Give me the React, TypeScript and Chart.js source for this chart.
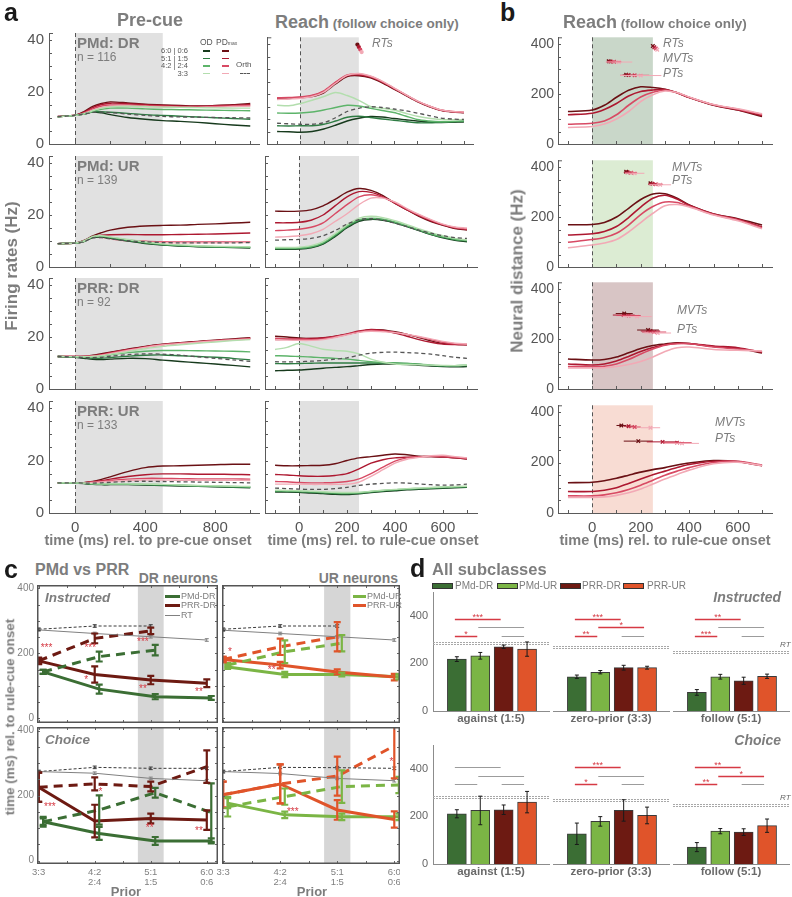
import React, { useEffect, useRef } from 'react';
import { Chart, registerables } from 'chart.js';

Chart.register(...registerables);

const FONT = '"Liberation Sans", Arial, Helvetica, sans-serif';
Chart.defaults.font.family = FONT;

const TXT = '#7d7d7d';
const AX = '#5a5a5a';

// ================= Panel a / b : time bases, ticks =================
const preTimes = [-100, 0, 50, 100, 150, 200, 300, 400, 500, 600, 700, 800, 900, 1000];
const reachTimes = [-100, -50, 0, 50, 100, 150, 200, 250, 300, 350, 400, 450, 500, 550, 600, 650, 700];
const distTimes = [-100, 0, 50, 100, 150, 200, 250, 300, 350, 400, 500, 600, 700];
const priorConds = ['6:0 | 0:6', '5:1 | 1:5', '4:2 | 2:4', '3:3'];
const preTicks = [0, 200, 400, 600, 800, 1000];
const preTickLabels = [0, 400, 800];
const reachTicks = [-100, 0, 100, 200, 300, 400, 500, 600, 700];
const reachTickLabels = [0, 200, 400, 600];
const rateTicks = [0, 5, 10, 15, 20, 25, 30, 35, 40];
const rateTickLabels = [0, 20, 40];
const distTicks = [0, 50, 100, 150, 200, 250, 300, 350, 400];
const distTickLabels = [0, 200, 400];
const areaNames = ['PMd: DR', 'PMd: UR', 'PRR: DR', 'PRR: UR'];
const areaCounts = [116, 139, 92, 133];

const OD_COLORS = ['#173a1d', '#2e7c43', '#5db46a', '#b3deae'];
const PD_COLORS = ['#6a1014', '#ad1830', '#d84a64', '#f2a9b5'];

// ---- PMd DR ----
const pmdDrPreOD = [
  [10.5, 11, 11.5, 12.3, 12, 11.3, 10.2, 9.5, 9, 8.7, 8.3, 7.8, 7.3, 6.9],
  [10.5, 11, 11.6, 12.4, 12.4, 12.2, 11.8, 11.3, 11, 10.7, 10.4, 10.1, 9.8, 9.5],
  [10.5, 11, 11.5, 12.5, 13.3, 13.8, 13.8, 13.5, 13.3, 13.2, 13.1, 13, 12.9, 12.8],
  [10.5, 11, 11.6, 12.8, 13.8, 14.3, 14.5, 14.4, 14.2, 14.1, 14, 13.9, 13.8, 13.8],
];
const pmdDrPrePD = [
  [10.6, 11.1, 12.5, 14.5, 15.6, 16.2, 15.8, 15.3, 15, 14.8, 14.6, 14.8, 15.1, 15.6],
  [10.6, 11.1, 12.2, 14, 15.2, 15.7, 15.5, 15.1, 14.8, 14.6, 14.5, 14.7, 14.9, 15.2],
  [10.5, 11, 12, 13.5, 14.6, 15, 15, 14.7, 14.5, 14.3, 14.3, 14.4, 14.6, 14.8],
  [10.5, 11, 11.8, 13, 14, 14.5, 14.6, 14.4, 14.2, 14.1, 14.1, 14.2, 14.4, 14.5],
];
const pmdDrPreOrth = [10.5, 11, 11.5, 12.2, 12.3, 12.1, 11.5, 11, 10.6, 10.4, 10.3, 10.2, 10.1, 10];
const pmdDrReachOD = [
  [5, 4.9, 4.7, 5, 6, 7.5, 9.2, 10.3, 11, 10.8, 10.2, 9.7, 9.2, 8.8, 8.6, 8.7, 8.8],
  [7.3, 7.2, 7.3, 7.3, 7.9, 9.2, 10.7, 11.1, 10.6, 10, 9.5, 9, 8.5, 8.5, 8.7, 8.9, 9.1],
  [12.4, 12.3, 12.4, 12.8, 13.6, 14.6, 15.5, 15.2, 14.3, 13.4, 12.6, 11.2, 9.8, 9.2, 8.9, 9, 9.2],
  [15.5, 15.3, 16.2, 17.5, 19, 20.6, 19.4, 17.5, 15, 14.3, 13.6, 12.3, 11.1, 10.3, 9.8, 9.7, 9.8],
];
const pmdDrReachPD = [
  [18, 18.2, 18.5, 19, 20.5, 24, 27, 27.3, 26.5, 24.5, 22, 19.5, 17, 15, 13.5, 12.8, 12.5],
  [18.3, 18.5, 18.7, 19.3, 21, 24.5, 27.3, 27.6, 26.8, 24.8, 22.2, 19.7, 17.2, 15.2, 13.6, 12.9, 12.6],
  [18.5, 18.6, 18.8, 19.5, 21.3, 24.8, 27.6, 28, 27, 25, 22.4, 19.8, 17.2, 15.2, 13.6, 13, 12.7],
  [17.8, 18, 18.3, 19, 20.8, 24.3, 27.5, 28.2, 27.2, 25.2, 22.5, 19.8, 17.3, 15.3, 13.7, 13, 12.8],
];
const pmdDrReachOrth = [8.3, 8.1, 7.9, 7.9, 8.5, 10.5, 13, 14.3, 14.9, 14.6, 14, 13.3, 12.4, 11.4, 10.4, 10, 9.8];
const reachRtTimes = [244, 250, 256, 262];
const reachRtLevels = [39.8, 38.8, 37.8, 36.8];
const reachRtErr = [3, 3, 3, 3];

// ---- PMd UR ----
const pmdUrPreOD = [
  [9, 9.2, 9.8, 11.3, 11.5, 11, 10, 9, 8.4, 8.1, 7.8, 7.6, 7.5, 7.3],
  [9, 9.2, 9.9, 11.5, 11.7, 11.2, 10.2, 9.2, 8.5, 8.2, 7.9, 7.7, 7.6, 7.5],
  [9, 9.2, 9.9, 11.6, 11.9, 11.4, 10.4, 9.4, 8.7, 8.3, 8, 7.8, 7.7, 7.6],
  [9, 9.2, 10, 11.8, 12, 11.6, 10.6, 9.6, 8.9, 8.5, 8.2, 8, 7.9, 7.8],
];
const pmdUrPrePD = [
  [9, 9.2, 10.2, 12, 13.2, 14.2, 15.3, 15.8, 16, 16.1, 16.4, 16.6, 16.9, 17.2],
  [9, 9.2, 10, 11.6, 12.2, 12.4, 12.5, 12.4, 12.4, 12.5, 12.6, 12.7, 12.9, 13.1],
  [9, 9.2, 9.9, 11.5, 11.5, 11, 10.3, 9.9, 9.7, 9.6, 9.6, 9.6, 9.6, 9.7],
  [9, 9.2, 9.9, 11.4, 11.3, 10.8, 10, 9.6, 9.4, 9.3, 9.3, 9.3, 9.4, 9.5],
];
const pmdUrPreOrth = [9, 9.2, 9.8, 11.2, 11.3, 10.8, 10.1, 9.7, 9.4, 9.3, 9.3, 9.3, 9.3, 9.4];
const pmdUrReachOD = [
  [6.8, 6.8, 6.9, 7.4, 8.8, 11.7, 15.1, 17.6, 18.3, 18, 17, 15.5, 14, 12.5, 11.2, 10.3, 9.7],
  [7, 7, 7.1, 7.6, 9, 12, 15.4, 17.9, 18.5, 18.2, 17.1, 15.6, 14.1, 12.6, 11.4, 10.5, 10],
  [7.2, 7.2, 7.3, 7.8, 9.3, 12.3, 15.7, 18.2, 18.8, 18.4, 17.3, 15.8, 14.3, 12.8, 11.6, 10.7, 10.2],
  [7.5, 7.5, 7.6, 8.2, 9.8, 12.8, 16.2, 18.8, 19.5, 19, 17.8, 16.3, 14.7, 13.2, 12, 11, 10.4],
];
const pmdUrReachPD = [
  [21.5, 21.4, 21.5, 22, 23.5, 26, 28.8, 30.2, 29.5, 27.5, 24.5, 22, 19.5, 17.5, 16, 14.8, 14.2],
  [17, 17, 17.2, 18, 20, 23.5, 27, 29, 28.7, 27, 24.5, 22, 19.8, 17.8, 16.2, 15, 14.4],
  [14, 14.2, 14.5, 15.3, 17, 20.5, 24, 27, 27.8, 26.8, 24.8, 22.3, 20, 18, 16.3, 15.2, 14.6],
  [11.5, 11.7, 12, 12.8, 14.5, 17.5, 20.5, 24, 26.5, 26.5, 25, 22.5, 20.2, 18.2, 16.5, 15.4, 15],
];
const pmdUrReachOrth = [10.3, 10.5, 10.6, 11, 12, 14, 16.5, 18.2, 18.6, 18, 16.8, 15.5, 14.2, 13, 12, 11.3, 11];

// ---- PRR DR ----
const prrDrPreOD = [
  [12.5, 12.2, 11.8, 11.4, 11.3, 11.5, 11.8, 11.7, 11.1, 10.6, 10.1, 9.6, 9.1, 8.5],
  [12.5, 12.3, 12.1, 11.8, 11.8, 12.1, 12.6, 13, 13.1, 12.8, 12.5, 12.2, 11.8, 11.2],
  [12.5, 12.4, 12.3, 12.3, 12.6, 13.2, 14, 14.5, 14.8, 14.8, 14.7, 14.6, 14.5, 14.3],
  [12.5, 12.4, 12.4, 12.5, 12.8, 13.3, 14.4, 15.5, 16.4, 17, 17.6, 18.1, 18.6, 19],
];
const prrDrPrePD = [
  [12.5, 12.5, 12.6, 13, 13.6, 14.2, 15.3, 16.4, 17.2, 17.8, 18.3, 18.8, 19.3, 19.7],
  [12.5, 12.5, 12.5, 12.8, 13.3, 14, 15.2, 16.3, 17.1, 17.7, 18.2, 18.7, 19.1, 19.5],
  [12.5, 12.5, 12.5, 12.7, 13.1, 13.8, 15, 16.1, 17, 17.6, 18.1, 18.6, 19, 19.4],
  [12.5, 12.5, 12.5, 12.6, 13, 13.6, 14.8, 16, 16.9, 17.5, 18, 18.5, 18.9, 19.2],
];
const prrDrPreOrth = [12.5, 12.3, 12.1, 12.1, 12.2, 12.6, 13.2, 13.5, 13.4, 13, 12.4, 11.8, 11.2, 10.6];
const prrDrReachOD = [
  [7, 7.2, 7.3, 7.6, 8, 8.3, 8.6, 9, 9.4, 9.6, 9.6, 9.4, 9.1, 8.8, 8.6, 8.5, 8.6],
  [9.8, 9.7, 9.8, 9.9, 10, 10, 10, 10, 10, 10, 10, 9.8, 9.5, 9.1, 8.8, 8.8, 9],
  [12.8, 12.7, 12.5, 12.3, 12, 11.8, 11.5, 11, 10.5, 10.2, 10, 9.8, 9.5, 9.2, 9, 9, 9.2],
  [15.2, 16, 17.5, 16.5, 15.3, 14.8, 14.5, 13.5, 11.5, 10.3, 9.6, 9.4, 9.3, 9.2, 9.1, 9, 9.2],
];
const prrDrReachPD = [
  [20.3, 20, 19.6, 19.4, 19.6, 20.2, 21, 22, 22.8, 22.7, 22, 21, 19.8, 18.5, 17.5, 17.2, 17],
  [19, 19.2, 19.3, 19.4, 19.7, 20.3, 21.2, 22.3, 22.9, 22.5, 21.5, 20.3, 19, 18, 17.3, 17.1, 17],
  [19.5, 19.3, 19.2, 19, 19.3, 20, 21, 22, 22.5, 22.3, 21.8, 21, 20, 19, 18, 17.4, 17.2],
  [19, 18.8, 18.7, 18.7, 19, 19.8, 20.8, 21.8, 22.2, 22, 21.7, 21, 20.2, 19.3, 18.3, 17.6, 17.3],
];
const prrDrReachOrth = [10.5, 10.4, 10.5, 10.7, 11, 11.5, 12, 13, 13.8, 14.1, 14.2, 14, 13.8, 13.4, 12.8, 12.2, 11.8];

// ---- PRR UR ----
const prrUrPreOD = [
  [11.5, 11.4, 11.2, 10.9, 10.8, 10.8, 10.8, 10.7, 10.5, 10.3, 10.2, 10, 9.8, 9.6],
  [11.5, 11.4, 11.3, 11, 10.9, 10.9, 10.9, 10.8, 10.6, 10.5, 10.3, 10.1, 9.9, 9.8],
  [11.5, 11.4, 11.3, 11.1, 11, 11, 11, 10.9, 10.8, 10.6, 10.4, 10.2, 10.1, 10],
  [11.5, 11.5, 11.4, 11.2, 11.1, 11.1, 11.1, 11, 10.9, 10.7, 10.5, 10.4, 10.2, 10.1],
];
const prrUrPrePD = [
  [11.5, 11.5, 11.6, 12, 12.8, 13.8, 15.8, 17.3, 17.9, 18, 18.2, 18.4, 18.6, 18.6],
  [11.5, 11.5, 11.6, 11.9, 12.3, 12.9, 13.9, 14.6, 14.9, 14.9, 14.8, 14.8, 14.7, 14.6],
  [11.5, 11.5, 11.5, 11.7, 12, 12.4, 12.9, 13.2, 13.2, 13.1, 13, 13, 13, 12.9],
  [11.5, 11.5, 11.5, 11.6, 11.8, 12, 12.4, 12.6, 12.6, 12.5, 12.5, 12.5, 12.5, 12.4],
];
const prrUrPreOrth = [11.5, 11.5, 11.4, 11.4, 11.5, 11.7, 12, 12.1, 12, 11.9, 11.8, 11.7, 11.6, 11.5];
const prrUrReachOD = [
  [8, 8, 7.9, 7.6, 7.4, 7.1, 7, 7.3, 7.8, 8.2, 8.5, 8.8, 9, 9.2, 9.4, 9.6, 9.8],
  [8.3, 8.2, 8.1, 7.9, 7.6, 7.4, 7.3, 7.5, 8, 8.4, 8.7, 9, 9.2, 9.4, 9.6, 9.8, 10],
  [8.5, 8.4, 8.3, 8.1, 7.9, 7.6, 7.5, 7.7, 8.2, 8.6, 8.9, 9.2, 9.4, 9.6, 9.8, 10, 10.1],
  [8.7, 8.6, 8.5, 8.3, 8.1, 7.9, 7.8, 7.9, 8.3, 8.7, 9, 9.3, 9.5, 9.7, 9.9, 10.1, 10.2],
];
const prrUrReachPD = [
  [18.2, 18, 18, 18.1, 18.2, 18.8, 20, 21, 21.5, 22, 22.5, 22.2, 21.7, 21.5, 21.3, 21, 20.6],
  [14.7, 14.5, 14.2, 14, 14, 14.3, 15, 16.8, 19, 20.3, 21, 21.3, 21.5, 21.5, 21.4, 21, 20.7],
  [12, 11.9, 11.6, 11.5, 11.5, 11.6, 12, 13, 15, 17.5, 19.8, 21, 21.5, 21.6, 21.5, 21.2, 20.9],
  [11, 11, 11, 10.9, 10.9, 10.9, 11, 11.8, 14, 16.5, 19, 20.5, 21.2, 21.8, 22, 21.5, 21],
];
const prrUrReachOrth = [9.5, 9.3, 9.1, 9, 9, 9.3, 9.8, 10.5, 11, 11.3, 11.5, 11.4, 11.1, 10.8, 10.6, 10.7, 11];

// ================= Panel b: neural distance =================
const distPmdDr = [
  [130, 136, 155, 187, 215, 229, 226, 219, 205, 186, 155, 136, 110],
  [117, 123, 138, 162, 192, 210, 216, 218, 205, 186, 156, 137, 114],
  [79, 83, 92, 117, 155, 188, 207, 215, 205, 187, 157, 139, 118],
  [66, 70, 80, 100, 130, 170, 197, 212, 206, 188, 158, 141, 121],
];
const distPmdUr = [
  [169, 170, 178, 200, 235, 270, 292, 293, 275, 248, 212, 193, 168],
  [128, 133, 142, 162, 198, 240, 275, 287, 272, 247, 212, 191, 160],
  [99, 110, 118, 135, 168, 210, 242, 260, 258, 243, 210, 188, 157],
  [77, 88, 96, 110, 140, 178, 215, 245, 250, 240, 208, 185, 153],
];
const distPrrDr = [
  [120, 116, 118, 128, 145, 162, 174, 180, 185, 182, 170, 163, 144],
  [100, 96, 100, 112, 130, 150, 166, 177, 183, 182, 172, 165, 147],
  [90, 89, 91, 100, 118, 140, 160, 175, 181, 181, 168, 160, 150],
  [84, 84, 85, 90, 98, 110, 128, 150, 165, 168, 158, 155, 152],
];
const distPrrUr = [
  [120, 122, 128, 138, 150, 162, 172, 180, 190, 198, 208, 204, 188],
  [85, 85, 90, 100, 117, 135, 152, 166, 180, 192, 205, 203, 187],
  [68, 68, 72, 80, 93, 110, 130, 150, 166, 180, 200, 205, 190],
  [62, 62, 64, 70, 80, 95, 115, 135, 153, 170, 195, 201, 188],
];
// behavioural markers (mean time, level, half-width) for 6:0, 5:1, 4:2, 3:3
const distPmdDrRT = { x: [250, 256, 262, 268], y: [392, 387, 382, 377], err: [3, 3, 3, 3] };
const distPmdDrMVT = { x: [68, 75, 90, 110], y: [331, 330, 329, 328], err: [8, 12, 30, 55] };
const distPmdDrPT = { x: [140, 150, 175, 200], y: [277, 276, 275, 274], err: [10, 25, 60, 85] };
const distPmdUrMVT = { x: [140, 145, 160, 175], y: [381, 379, 377, 375], err: [8, 15, 25, 40] };
const distPmdUrPT = { x: [240, 248, 262, 280], y: [335, 333, 331, 329], err: [8, 15, 30, 45] };
const distPrrDrMVT = { x: [132, 130, 150, 185], y: [302, 296, 294, 290], err: [35, 45, 50, 60] };
const distPrrDrPT = { x: [230, 240, 255, 270], y: [236, 232, 228, 224], err: [45, 40, 50, 55] };
const distPrrUrMVT = { x: [120, 150, 175, 240], y: [347, 344, 341, 338], err: [20, 20, 25, 40] };
const distPrrUrPT = { x: [190, 290, 350, 370], y: [285, 282, 279, 276], err: [60, 65, 60, 70] };
const distShades = ['#c9d7c9', '#dcecd3', '#d8c5c5', '#f8dcd3'];

// ================= Panel c: PMd vs PRR =================
const priorTickLabels = [['3:3'], ['4:2', '2:4'], ['5:1', '1:5'], ['6:0', '0:6']];
const priorTicks = [0, 0.5, 1, 1.5, 2, 2.5, 3];
const latTicks = [0, 50, 100, 150, 200, 250, 300, 350, 400];
const latTickLabels = [0, 200, 400];

const instrDrRT = [272, 261, 251, 241];
const instrDrRTDash = [274, 284, 284];
const instrDrPmdDash = [143, 190, 210];
const instrDrPmdDashErr = [6, 15, 16];
const instrDrPrrDash = [177, 246, 269];
const instrDrPrrDashErr = [8, 15, 10];
const instrDrPrr = [177, 135, 118, 108];
const instrDrPrrErr = [10, 25, 13, 12];
const instrDrPmd = [143, 90, 67, 63];
const instrDrPmdErr = [6, 14, 8, 6];
const instrDrStars = [[0.14, 217, '***'], [0.92, 216, '***'], [1.86, 233, '***'], [0.85, 118, '*'], [1.86, 90, '**'], [2.86, 82, '**']];

const instrUrRT = [271, 261, 251, 241];
const instrUrRTDash = [274, 284, 284];
const instrUrPmdDash = [164, 205, 231];
const instrUrPmdDashErr = [6, 35, 25];
const instrUrPrrDash = [181, 220, 251];
const instrUrPrrDashErr = [8, 25, 45];
const instrUrPrr = [181, 164, 143, 127];
const instrUrPrrErr = [8, 10, 8, 10];
const instrUrPmd = [158, 135, 135, 128];
const instrUrPmdErr = [6, 8, 6, 8];
const instrUrStars = [[0.12, 202, '*'], [0.85, 149, '**']];

const choiceDrRT = [274, 269, 253, 246];
const choiceDrRTDash = [274, 287, 284, 284];
const choiceDrPmdDash = [120, 156, 209, 148];
const choiceDrPmdDashErr = [10, 45, 15, 90];
const choiceDrPrrDash = [226, 236, 228, 289];
const choiceDrPrrDashErr = [45, 20, 15, 50];
const choiceDrPrr = [226, 122, 130, 125];
const choiceDrPrrErr = [45, 50, 15, 30];
const choiceDrPmd = [120, 84, 61, 61];
const choiceDrPmdErr = [15, 20, 12, 8];
const choiceDrStars = [[0.2, 164, '***'], [1.1, 209, '*'], [1.98, 100, '**'], [2.86, 92, '**']];

const choiceUrRT = [274, 268, 253, 246];
const choiceUrRTDash = [274, 287, 286, 284];
const choiceUrPmdDash = [166, 197, 228, 233];
const choiceUrPmdDashErr = [30, 25, 50, 25];
const choiceUrPrrDash = [203, 236, 260, 353];
const choiceUrPrrDashErr = [40, 60, 60, 100];
const choiceUrPrr = [203, 236, 156, 127];
const choiceUrPrrErr = [40, 60, 30, 25];
const choiceUrPmd = [177, 141, 135, 135];
const choiceUrPmdErr = [15, 10, 10, 10];
const choiceUrStars = [[1.22, 148, '***'], [2.95, 302, '*']];

const C_PMD_DR = '#3b6e34';
const C_PMD_UR = '#7bb545';
const C_PRR_DR = '#6d1a12';
const C_PRR_UR = '#e0542a';

// ================= Panel d: all subclasses =================
const subclasses = ['PMd-DR', 'PMd-UR', 'PRR-DR', 'PRR-UR'];
const D_COLORS = ['#3b6e34', '#7bb545', '#6d1a12', '#e0542a'];
const priorGroups = ['against (1:5)', 'zero-prior (3:3)', 'follow (5:1)'];
const instrBars = [[218, 232, 270, 260], [144, 163, 182, 182], [78, 144, 127, 146]];
const instrBarErr = [[10, 14, 7, 30], [7, 7, 10, 6], [12, 10, 15, 9]];
const instrRT = [284, 268, 249];
const instrSig = [['***', '', '*', ''], ['***', '*', '**', ''], ['**', '', '***', '']];
const instrSigLevels = [387, 352, 316];
const choiceBars = [[211, 225, 228, 260], [127, 179, 225, 204], [71, 138, 134, 161]];
const choiceBarErr = [[17, 60, 20, 45], [45, 20, 45, 35], [19, 11, 14, 28]];
const choiceRT = [283, 269, 250];
const choiceSig = [['', '', '', ''], ['***', '', '*', ''], ['**', '*', '**', '']];
const choiceSigLevels = [406, 371, 336];

// ================= drawing helpers =================
function decor(o: any) {
  return {
    id: 'decor',
    beforeDatasetsDraw(chart: any) {
      const { ctx, chartArea: ca, scales } = chart;
      const xs = scales.x, ys = scales.y;
      ctx.save();
      for (const b of o.bands || []) {
        const x1 = xs.getPixelForValue(b.from), x2 = xs.getPixelForValue(b.to);
        ctx.fillStyle = b.color;
        ctx.fillRect(x1, ca.top, x2 - x1, ca.bottom - ca.top);
      }
      if (o.vline !== undefined) {
        const p = Math.round(xs.getPixelForValue(o.vline)) + 0.5;
        ctx.strokeStyle = '#555'; ctx.lineWidth = 1; ctx.setLineDash([4, 3]);
        ctx.beginPath(); ctx.moveTo(p, ca.top); ctx.lineTo(p, ca.bottom); ctx.stroke();
        ctx.setLineDash([]);
      }
      if (o.rt !== undefined) {
        const p = Math.round(ys.getPixelForValue(o.rt)) + 0.5;
        ctx.strokeStyle = '#a8a8a8'; ctx.lineWidth = 1; ctx.setLineDash([2, 1]);
        ctx.beginPath();
        ctx.moveTo(ca.left, p - 1); ctx.lineTo(ca.right, p - 1);
        ctx.moveTo(ca.left, p + 1); ctx.lineTo(ca.right, p + 1);
        ctx.stroke(); ctx.setLineDash([]);
      }
      ctx.restore();
    },
    afterDatasetsDraw(chart: any) {
      const { ctx, chartArea: ca, scales } = chart;
      const xs = scales.x, ys = scales.y;
      ctx.save();
      ctx.beginPath(); ctx.rect(ca.left, ca.top, ca.right - ca.left, ca.bottom - ca.top); ctx.clip();
      chart.data.datasets.forEach((ds: any, i: number) => {
        const meta = chart.getDatasetMeta(i);
        if (ds.err) {
          ctx.setLineDash([]);
          ctx.strokeStyle = ds.errColor || ds.borderColor; ctx.lineWidth = ds.errWidth || 1;
          meta.data.forEach((pt: any, j: number) => {
            const e = ds.err[j]; if (!e) return;
            const v = ds.data[j].y;
            const y1 = ys.getPixelForValue(v - e), y2 = ys.getPixelForValue(v + e);
            const x = pt.x, c = ds.cap || 3;
            ctx.beginPath();
            ctx.moveTo(x, y1); ctx.lineTo(x, y2);
            ctx.moveTo(x - c, y1); ctx.lineTo(x + c, y1);
            ctx.moveTo(x - c, y2); ctx.lineTo(x + c, y2);
            ctx.stroke();
          });
        }
        if (ds.xerr) {
          ctx.setLineDash([]); ctx.lineWidth = 1;
          meta.data.forEach((pt: any, j: number) => {
            const e = ds.xerr[j]; const xv = ds.data[j].x;
            ctx.strokeStyle = ds.pointBorderColor[j];
            ctx.beginPath();
            ctx.moveTo(xs.getPixelForValue(xv - e), pt.y); ctx.lineTo(xs.getPixelForValue(xv + e), pt.y);
            ctx.stroke();
          });
        }
      });
      ctx.restore();
      ctx.save();
      if (o.ticks) {
        const t = o.ticks; const L = t.len || 3;
        ctx.strokeStyle = t.color || AX; ctx.lineWidth = 1; ctx.setLineDash([]);
        ctx.beginPath();
        if (t.x) for (const tk of xs.ticks) {
          const p = Math.round(xs.getPixelForValue(tk.value)) + 0.5;
          ctx.moveTo(p, ca.bottom); ctx.lineTo(p, ca.bottom - L);
          if (t.box) { ctx.moveTo(p, ca.top); ctx.lineTo(p, ca.top + L); }
        }
        if (t.y) for (const tk of ys.ticks) {
          const p = Math.round(ys.getPixelForValue(tk.value)) + 0.5;
          ctx.moveTo(ca.left, p); ctx.lineTo(ca.left + L, p);
          if (t.box) { ctx.moveTo(ca.right, p); ctx.lineTo(ca.right - L, p); }
        }
        if (t.cap) { ctx.moveTo(ca.left, ca.top + 0.5); ctx.lineTo(ca.left + L + 1, ca.top + 0.5); }
        ctx.stroke();
      }
      if (o.box) {
        ctx.strokeStyle = '#555'; ctx.lineWidth = 1.5;
        ctx.strokeRect(ca.left + 0.75, ca.top + 0.75, ca.right - ca.left - 1.5, ca.bottom - ca.top - 1.5);
      }
      if (o.stars) {
        ctx.fillStyle = '#d63a44'; ctx.font = `10px ${FONT}`; ctx.textAlign = 'center'; ctx.textBaseline = 'middle';
        for (const s of o.stars) ctx.fillText(s[2], xs.getPixelForValue(s[0]), ys.getPixelForValue(s[1]));
      }
      if (o.sig) {
        const pairs = [[0, 2, 0], [1, 3, 1], [0, 1, 2], [2, 3, 2]];
        pairs.forEach((pr, k) => {
          const txt = o.sig.texts[k];
          const y = Math.round(ys.getPixelForValue(o.sig.levels[pr[2]])) + 0.5;
          const x1 = xs.getPixelForValue(pr[0]) - 2, x2 = xs.getPixelForValue(pr[1]) - 3;
          ctx.strokeStyle = txt ? '#d63a44' : '#9c9c9c'; ctx.lineWidth = txt ? 1.5 : 1;
          ctx.beginPath(); ctx.moveTo(x1, y); ctx.lineTo(x2, y); ctx.stroke();
          if (txt) {
            ctx.fillStyle = '#d63a44'; ctx.font = `9px ${FONT}`; ctx.textAlign = 'center'; ctx.textBaseline = 'bottom';
            ctx.fillText(txt, (x1 + x2) / 2, y + 3);
          }
        });
      }
      ctx.restore();
    },
  };
}

function noPad(s: any) {
  s.paddingLeft = 0; s.paddingRight = 0; s.paddingTop = 0; s.paddingBottom = 0;
}

function baseOpts(o: any) {
  return {
    animation: false, responsive: false, maintainAspectRatio: false, events: [],
    layout: { padding: { top: o.padT || 0, right: o.padR || 0, left: 0, bottom: 0 } },
    plugins: { legend: { display: false }, tooltip: { enabled: false }, title: { display: false } },
    scales: {
      x: {
        type: 'linear', min: o.xmin, max: o.xmax, offset: false,
        afterBuildTicks: (s: any) => { s.ticks = o.xticks.map((v: number) => ({ value: v })); },
        afterFit: (s: any) => { s.height = o.xh; noPad(s); },
        grid: { display: false, drawTicks: false },
        border: { display: o.xBorder !== false, color: o.axColor || AX, width: 1 },
        ticks: {
          display: !!o.xLab, autoSkip: false, maxRotation: 0, minRotation: 0, padding: o.xPad ?? 6,
          color: o.tickColor || '#555', font: { size: o.xFont || 15, lineHeight: 1.05 },
          callback: (v: number) => (o.xLab ? o.xLab(v) : ''),
        },
      },
      y: {
        display: o.yDisplay !== false, min: o.ymin, max: o.ymax,
        afterBuildTicks: (s: any) => { s.ticks = o.yticks.map((v: number) => ({ value: v })); },
        afterFit: (s: any) => { s.width = o.yw; noPad(s); },
        grid: { display: false, drawTicks: false },
        border: { display: o.yBorder !== false, color: o.axColor || AX, width: 1 },
        ticks: {
          display: !!o.yLab, autoSkip: false, padding: o.yPad ?? 5,
          color: o.yTickColor || o.tickColor || '#555', font: { size: o.yFont || 15 },
          callback: (v: number) => (o.yLab ? o.yLab(v) : ''),
        },
      },
    },
  };
}

function lineSet(times: number[], vals: number[], color: string, width = 1.4, dash: number[] = []) {
  return {
    data: times.map((t, i) => ({ x: t, y: vals[i] })),
    borderColor: color, borderWidth: width, borderDash: dash,
    pointRadius: 0, tension: 0.3, fill: false,
  };
}

function markSet(m: any, radius = 2.5, style = 'crossRot') {
  return {
    data: m.x.map((x: number, i: number) => ({ x, y: m.y[i] })),
    showLine: false, pointRadius: radius, pointStyle: style, pointBorderWidth: 1.3,
    pointBackgroundColor: PD_COLORS, pointBorderColor: PD_COLORS, borderColor: PD_COLORS[0], xerr: m.err,
  };
}

function rateChart(od: number[][], pd: number[][], orth: number[], isPre: boolean, last: boolean, marks?: any) {
  const times = isPre ? preTimes : reachTimes;
  const ds: any[] = [lineSet(times, orth, '#555', 1.3, [4, 3])];
  for (let k = 3; k >= 0; k--) ds.push(lineSet(times, od[k], OD_COLORS[k]));
  for (let k = 3; k >= 0; k--) ds.push(lineSet(times, pd[k], PD_COLORS[k]));
  if (marks) ds.push(markSet(marks, 1.5, 'circle'));
  const labs = isPre ? preTickLabels : reachTickLabels;
  const opts = baseOpts({
    xmin: isPre ? -150 : -142, xmax: isPre ? 1050 : 742, xticks: isPre ? preTicks : reachTicks,
    xh: last ? 23 : 9, xLab: last ? (v: number) => (labs.includes(v) ? String(v) : '') : null, xPad: 7,
    ymin: 0, ymax: 42.7, yticks: rateTicks, yw: isPre ? 49 : 3,
    yLab: isPre ? (v: number) => (rateTickLabels.includes(v) ? String(v) : '') : null,
    padT: 1, padR: isPre ? 3 : 2,
  });
  return {
    type: 'line', data: { datasets: ds }, options: opts,
    plugins: [decor({ bands: [{ from: 0, to: isPre ? 500 : 250, color: '#e1e1e1' }], vline: 0, ticks: { x: true, y: true, len: 3, cap: true } })],
  };
}

function distChart(curves: number[][], shade: string, last: boolean, marks: any[]) {
  const ds: any[] = [];
  for (let k = 3; k >= 0; k--) ds.push(lineSet(distTimes, curves[k], PD_COLORS[k], 1.6));
  for (const m of marks) ds.push(markSet(m));
  const opts = baseOpts({
    xmin: -141, xmax: 741, xticks: reachTicks, xh: last ? 23 : 9,
    xLab: last ? (v: number) => (reachTickLabels.includes(v) ? String(v) : '') : null, xPad: 7,
    ymin: 0, ymax: 427, yticks: distTicks, yw: 38,
    yLab: (v: number) => (distTickLabels.includes(v) ? String(v) : ''), yFont: 14, yPad: 4,
    padT: 1, padR: 6,
  });
  return {
    type: 'line', data: { datasets: ds }, options: opts,
    plugins: [decor({ bands: [{ from: 0, to: 250, color: shade }], vline: 0, ticks: { x: true, y: true, len: 3, cap: true } })],
  };
}

function priorSet(vals: number[], err: number[] | null, color: string, width: number, dash: number[], off: number, cap: number) {
  return {
    data: vals.map((v, i) => ({ x: i + off, y: v })), err,
    borderColor: color, borderWidth: width, borderDash: dash, pointRadius: 0, tension: 0, fill: false,
    cap, errWidth: width > 2 ? 2.2 : 1,
  };
}

function priorChart(p: any) {
  const ds = [
    priorSet(p.rt, [4, 4, 4, 4], '#808080', 1, [], 0, 2),
    priorSet(p.rtDash, [4, 4, 4, 4], '#3a3a3a', 1, [3, 2], 0, 2),
    priorSet(p.pmdDash, p.pmdDashErr, p.pmdColor, 3, [9, 6], 0.08, 3.5),
    priorSet(p.prrDash, p.prrDashErr, p.prrColor, 3, [9, 6], 0, 3.5),
    priorSet(p.prr, p.prrErr, p.prrColor, 3, [], 0, 3.5),
    priorSet(p.pmd, p.pmdErr, p.pmdColor, 3, [], 0.08, 3.5),
  ];
  const opts = baseOpts({
    xmin: p.xmin, xmax: p.xmax, xticks: priorTicks, xh: p.last ? 26 : 3,
    xLab: p.last ? (v: number) => (Number.isInteger(v) ? priorTickLabels[v] : '') : null,
    xPad: 3, xFont: 9.5, tickColor: '#808080',
    ymin: p.ymin, ymax: p.ymax, yticks: latTicks, yw: p.yw,
    yLab: p.yLabels ? (v: number) => (latTickLabels.includes(v) ? String(v) : '') : null, yFont: 10, yPad: 3,
    xBorder: false, yBorder: false, padT: 5,
  });
  return {
    type: 'line', data: { datasets: ds }, options: opts,
    plugins: [decor({ bands: [{ from: 1.77, to: 2.23, color: '#d6d6d6' }], ticks: { x: true, y: true, box: true, len: 3, color: '#666' }, box: true, stars: p.stars })],
  };
}

function barChart(vals: number[], errs: number[], rt: number, texts: string[], levels: number[], showY: boolean) {
  const ds = [{
    data: vals.map((v, i) => ({ x: i, y: v })), backgroundColor: D_COLORS, borderColor: '#3a3a3a', borderWidth: 1,
    barThickness: 19, err: errs, errColor: '#1a1a1a', errWidth: 1, cap: 2,
  }];
  const opts = baseOpts({
    xmin: -1.02, xmax: 3.98, xticks: [], xh: 7, axColor: '#8c8c8c',
    ymin: 0, ymax: 500, yticks: [0, 200, 400], yw: showY ? 33 : 0, yDisplay: showY,
    yLab: showY ? (v: number) => String(v) : null, yFont: 11, yPad: 5, padT: 2, tickColor: '#666',
  });
  return { type: 'bar', data: { datasets: ds }, options: opts, plugins: [decor({ rt, sig: { texts, levels } })] };
}

function Plot({ x, y, w, h, make }: any) {
  const ref = useRef<HTMLCanvasElement>(null);
  useEffect(() => {
    const chart = new Chart(ref.current as HTMLCanvasElement, make());
    return () => chart.destroy();
  }, []);
  return <canvas ref={ref} width={w} height={h} style={{ position: 'absolute', left: x, top: y, width: w, height: h }} />;
}

function Txt({ x, y, size = 12, bold = false, italic = false, color = TXT, align = 'left', children }: any) {
  const tx = align === 'center' ? 'translateX(-50%)' : align === 'right' ? 'translateX(-100%)' : 'none';
  return (
    <div style={{ position: 'absolute', left: x, top: y, fontSize: size, fontWeight: bold ? 700 : 400, fontStyle: italic ? 'italic' : 'normal', color, whiteSpace: 'nowrap', lineHeight: 1, transform: tx }}>
      {children}
    </div>
  );
}

function VTxt({ cx, cy, size, children }: any) {
  return (
    <div style={{ position: 'absolute', left: cx, top: cy, transform: 'translate(-50%, -50%) rotate(-90deg)', fontSize: size, fontWeight: 700, color: TXT, whiteSpace: 'nowrap', lineHeight: 1 }}>
      {children}
    </div>
  );
}

function Sw({ x, y, w, h, color, dashed = false, border = false }: any) {
  if (dashed) return <div style={{ position: 'absolute', left: x, top: y, width: w, height: 0, borderTop: `${h}px dashed ${color}` }} />;
  return <div style={{ position: 'absolute', left: x, top: y, width: w, height: h, background: color, boxSizing: 'border-box', border: border ? '1px solid #333' : 'none' }} />;
}

const Z = [144, 267, 389, 512];

export default function App() {
  useEffect(() => { document.body.style.margin = '0'; }, []);
  const preOD = [pmdDrPreOD, pmdUrPreOD, prrDrPreOD, prrUrPreOD];
  const prePD = [pmdDrPrePD, pmdUrPrePD, prrDrPrePD, prrUrPrePD];
  const preOrth = [pmdDrPreOrth, pmdUrPreOrth, prrDrPreOrth, prrUrPreOrth];
  const reachOD = [pmdDrReachOD, pmdUrReachOD, prrDrReachOD, prrUrReachOD];
  const reachPD = [pmdDrReachPD, pmdUrReachPD, prrDrReachPD, prrUrReachPD];
  const reachOrth = [pmdDrReachOrth, pmdUrReachOrth, prrDrReachOrth, prrUrReachOrth];
  const dist = [distPmdDr, distPmdUr, distPrrDr, distPrrUr];
  const distMarks = [[distPmdDrRT, distPmdDrMVT, distPmdDrPT], [distPmdUrMVT, distPmdUrPT], [distPrrDrMVT, distPrrDrPT], [distPrrUrMVT, distPrrUrPT]];
  const markTxt = [
    [['RTs', 663, 37], ['MVTs', 663, 52], ['PTs', 663, 67]],
    [['MVTs', 672, 161], ['PTs', 672, 174]],
    [['MVTs', 677, 304], ['PTs', 677, 323]],
    [['MVTs', 715, 416], ['PTs', 715, 432]],
  ];
  const groupX = [433, 553, 673];

  return (
    <div style={{ position: 'fixed', left: 0, top: 0, width: 792, height: 897, background: '#fff', overflow: 'hidden', fontFamily: FONT }}>
      {/* ---------- panel a ---------- */}
      {[0, 1, 2, 3].map((r) => (
        <React.Fragment key={'a' + r}>
          <Plot x={0} y={Z[r] - 112} w={262} h={r === 3 ? 136 : 121} make={() => rateChart(preOD[r], prePD[r], preOrth[r], true, r === 3)} />
          <Plot x={262} y={Z[r] - 112} w={217} h={r === 3 ? 136 : 121}
            make={() => rateChart(reachOD[r], reachPD[r], reachOrth[r], false, r === 3, r === 0 ? { x: reachRtTimes, y: reachRtLevels, err: reachRtErr } : undefined)} />
          <Plot x={520} y={Z[r] - 112} w={258} h={r === 3 ? 136 : 121} make={() => distChart(dist[r], distShades[r], r === 3, distMarks[r])} />
          <Txt x={77} y={Z[r] - 109} size={15} bold>{areaNames[r]}</Txt>
          <Txt x={77} y={Z[r] - 93} size={12}>{'n = ' + areaCounts[r]}</Txt>
          {markTxt[r].map((m: any) => <Txt key={m[0]} x={m[1]} y={m[2]} size={12} italic>{m[0]}</Txt>)}
        </React.Fragment>
      ))}
      <Txt x={4} y={0} size={25} bold color="#1a1a1a">a</Txt>
      <Txt x={500} y={0} size={25} bold color="#1a1a1a">b</Txt>
      <Txt x={150} y={11} size={18} bold align="center">Pre-cue</Txt>
      <div style={{ position: 'absolute', left: 275, top: 13, color: TXT, fontWeight: 700, whiteSpace: 'nowrap', lineHeight: 1 }}>
        <span style={{ fontSize: 18 }}>Reach</span><span style={{ fontSize: 13.5 }}> (follow choice only)</span>
      </div>
      <div style={{ position: 'absolute', left: 563, top: 13, color: TXT, fontWeight: 700, whiteSpace: 'nowrap', lineHeight: 1 }}>
        <span style={{ fontSize: 18 }}>Reach</span><span style={{ fontSize: 13.5 }}> (follow choice only)</span>
      </div>
      <Txt x={372} y={37} size={12} italic>RTs</Txt>
      <VTxt cx={11} cy={266} size={17}>Firing rates (Hz)</VTxt>
      <VTxt cx={517} cy={271} size={17}>Neural distance (Hz)</VTxt>
      <Txt x={148} y={533} size={14.5} bold align="center">time (ms) rel. to pre-cue onset</Txt>
      <Txt x={373} y={533} size={14.5} bold align="center">time (ms) rel. to rule-cue onset</Txt>
      <Txt x={665} y={533} size={14.5} bold align="center">time (ms) rel. to rule-cue onset</Txt>
      {/* panel a legend */}
      <Txt x={200} y={38} size={8.5} color="#555">OD</Txt>
      <Txt x={216} y={38} size={8.5} color="#555">PD<span style={{ fontSize: 5 }}>max</span></Txt>
      {priorConds.map((c, k) => (
        <React.Fragment key={c}>
          <Txt x={188} y={47 + k * 7.6} size={7.5} color="#555" align="right">{c}</Txt>
          <Sw x={203} y={50 + k * 7.6} w={6.5} h={1.6} color={OD_COLORS[k]} />
          <Sw x={222} y={50 + k * 7.6} w={6.5} h={1.6} color={PD_COLORS[k]} />
        </React.Fragment>
      ))}
      <Txt x={236} y={61} size={8} color="#555">Orth</Txt>
      <Sw x={240} y={73} w={10} h={1.5} color="#555" dashed />

      {/* ---------- panel c ---------- */}
      <Txt x={4} y={557} size={25} bold color="#1a1a1a">c</Txt>
      <Txt x={35} y={562} size={16} bold>PMd vs PRR</Txt>
      <Txt x={218} y={571} size={14} bold align="right">DR neurons</Txt>
      <Txt x={398} y={571} size={14} bold align="right">UR neurons</Txt>
      <Plot x={0} y={580} w={218} h={146} make={() => priorChart({
        rt: instrDrRT, rtDash: instrDrRTDash, pmdDash: instrDrPmdDash, pmdDashErr: instrDrPmdDashErr, prrDash: instrDrPrrDash, prrDashErr: instrDrPrrDashErr,
        prr: instrDrPrr, prrErr: instrDrPrrErr, pmd: instrDrPmd, pmdErr: instrDrPmdErr, pmdColor: C_PMD_DR, prrColor: C_PRR_DR,
        xmin: -0.03, xmax: 3.2, ymin: -14, ymax: 410, yw: 37, yLabels: true, last: false, stars: instrDrStars })} />
      <Plot x={214} y={580} w={186} h={146} make={() => priorChart({
        rt: instrUrRT, rtDash: instrUrRTDash, pmdDash: instrUrPmdDash, pmdDashErr: instrUrPmdDashErr, prrDash: instrUrPrrDash, prrDashErr: instrUrPrrDashErr,
        prr: instrUrPrr, prrErr: instrUrPrrErr, pmd: instrUrPmd, pmdErr: instrUrPmdErr, pmdColor: C_PMD_UR, prrColor: C_PRR_UR,
        xmin: -0.02, xmax: 3.1, ymin: -14, ymax: 410, yw: 8, yLabels: false, last: false, stars: instrUrStars })} />
      <Plot x={0} y={722} w={218} h={168} make={() => priorChart({
        rt: choiceDrRT, rtDash: choiceDrRTDash, pmdDash: choiceDrPmdDash, pmdDashErr: choiceDrPmdDashErr, prrDash: choiceDrPrrDash, prrDashErr: choiceDrPrrDashErr,
        prr: choiceDrPrr, prrErr: choiceDrPrrErr, pmd: choiceDrPmd, pmdErr: choiceDrPmdErr, pmdColor: C_PMD_DR, prrColor: C_PRR_DR,
        xmin: -0.03, xmax: 3.2, ymin: -10, ymax: 411, yw: 37, yLabels: true, last: true, stars: choiceDrStars })} />
      <Plot x={214} y={722} w={186} h={168} make={() => priorChart({
        rt: choiceUrRT, rtDash: choiceUrRTDash, pmdDash: choiceUrPmdDash, pmdDashErr: choiceUrPmdDashErr, prrDash: choiceUrPrrDash, prrDashErr: choiceUrPrrDashErr,
        prr: choiceUrPrr, prrErr: choiceUrPrrErr, pmd: choiceUrPmd, pmdErr: choiceUrPmdErr, pmdColor: C_PMD_UR, prrColor: C_PRR_UR,
        xmin: -0.02, xmax: 3.1, ymin: -10, ymax: 411, yw: 8, yLabels: false, last: true, stars: choiceUrStars })} />
      <Txt x={45} y={591} size={13.5} bold italic>Instructed</Txt>
      <Txt x={45} y={733} size={13.5} bold italic>Choice</Txt>
      <Sw x={165} y={595} w={15} h={3} color={C_PMD_DR} />
      <Txt x={181} y={592} size={9}>PMd-DR</Txt>
      <Sw x={165} y={604} w={15} h={3} color={C_PRR_DR} />
      <Txt x={181} y={601} size={9}>PRR-DR</Txt>
      <Sw x={165} y={615} w={15} h={1} color="#808080" />
      <Txt x={181} y={611} size={9}>RT</Txt>
      <Sw x={353} y={595} w={13} h={3} color={C_PMD_UR} />
      <Txt x={367} y={592} size={9}>PMd-UR</Txt>
      <Sw x={353} y={604} w={13} h={3} color={C_PRR_UR} />
      <Txt x={367} y={601} size={9}>PRR-UR</Txt>
      <Txt x={126} y={885} size={13} bold align="center">Prior</Txt>
      <Txt x={312} y={885} size={13} bold align="center">Prior</Txt>
      <VTxt cx={10} cy={717} size={13.5}>time (ms) rel. to rule-cue onset</VTxt>

      {/* ---------- panel d ---------- */}
      <Txt x={410} y={556} size={25} bold color="#1a1a1a">d</Txt>
      <Txt x={432} y={561} size={16.5} bold>All subclasses</Txt>
      {subclasses.map((s, k) => (
        <React.Fragment key={s}>
          <Sw x={[432, 497, 560, 623][k]} y={583} w={21} h={6} color={D_COLORS[k]} border />
          <Txt x={[455, 519, 582, 647][k]} y={581} size={10}>{s}</Txt>
        </React.Fragment>
      ))}
      {[0, 1, 2].map((g) => (
        <React.Fragment key={'d' + g}>
          <Plot x={g === 0 ? 400 : groupX[g]} y={590} w={g === 0 ? 150 : 117} h={128}
            make={() => barChart(instrBars[g], instrBarErr[g], instrRT[g], instrSig[g], instrSigLevels, g === 0)} />
          <Plot x={g === 0 ? 400 : groupX[g]} y={743} w={g === 0 ? 150 : 117} h={128}
            make={() => barChart(choiceBars[g], choiceBarErr[g], choiceRT[g], choiceSig[g], choiceSigLevels, g === 0)} />
          <Txt x={groupX[g] + 58} y={713} size={11.5} bold color="#6a6a6a" align="center">{priorGroups[g]}</Txt>
          <Txt x={groupX[g] + 58} y={866} size={11.5} bold color="#6a6a6a" align="center">{priorGroups[g]}</Txt>
        </React.Fragment>
      ))}
      <Txt x={781} y={590} size={14} bold italic align="right">Instructed</Txt>
      <Txt x={781} y={733} size={14} bold italic align="right">Choice</Txt>
      <Txt x={780} y={641} size={8} italic color="#666">RT</Txt>
      <Txt x={780} y={794} size={8} italic color="#666">RT</Txt>
    </div>
  );
}
